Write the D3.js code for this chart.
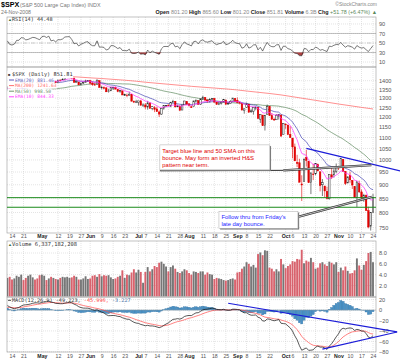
<!DOCTYPE html>
<html>
<head>
<meta charset="utf-8">
<script src="https://cdn.jsdelivr.net/npm/d3@7"></script>
<style>
  body { margin: 0; background: #fff; }
  svg text { font-family: Arial, "Liberation Sans", sans-serif; }
  .mono { font-family: "DejaVu Sans Mono", "Liberation Mono", monospace; }
</style>
</head>
<body>
<svg id="chart" width="400" height="363"></svg>
<script>
// ---- data (2008, daily $SPX) ----
// closes before the visible window, only used to warm up the averages
const earlyCloses = [1355.8,1378.6,1395.4,1380.8,1336.6,1326.5,1336.9,1331.3,1339.1,1348.9,1367.2,1348.9,1350.0,1348.8,1360.0,1342.5,1353.1,1371.8,1381.3,1380.0,1367.7,1330.6,1331.3,1326.8,1333.7,1304.3,1293.4,1273.4,1320.7,1308.8,1315.5,1288.1,1276.6,1330.7,1298.4,1329.5,1349.9,1353.0,1341.1,1325.8,1315.2,1322.7,1370.2,1367.5,1369.3,1370.4,1372.5,1365.5,1354.5];

const dates = ["04-10","04-11","04-14","04-15","04-16","04-17","04-18","04-21","04-22","04-23","04-24","04-25","04-28","04-29","04-30",
"05-01","05-02","05-05","05-06","05-07","05-08","05-09","05-12","05-13","05-14","05-15","05-16","05-19","05-20","05-21","05-22","05-23","05-27","05-28","05-29","05-30",
"06-02","06-03","06-04","06-05","06-06","06-09","06-10","06-11","06-12","06-13","06-16","06-17","06-18","06-19","06-20","06-23","06-24","06-25","06-26","06-27","06-30",
"07-01","07-02","07-03","07-07","07-08","07-09","07-10","07-11","07-14","07-15","07-16","07-17","07-18","07-21","07-22","07-23","07-24","07-25","07-28","07-29","07-30","07-31",
"08-01","08-04","08-05","08-06","08-07","08-08","08-11","08-12","08-13","08-14","08-15","08-18","08-19","08-20","08-21","08-22","08-25","08-26","08-27","08-28","08-29",
"09-02","09-03","09-04","09-05","09-08","09-09","09-10","09-11","09-12","09-15","09-16","09-17","09-18","09-19","09-22","09-23","09-24","09-25","09-26","09-29","09-30",
"10-01","10-02","10-03","10-06","10-07","10-08","10-09","10-10","10-13","10-14","10-15","10-16","10-17","10-20","10-21","10-22","10-23","10-24","10-27","10-28","10-29","10-30","10-31",
"11-03","11-04","11-05","11-06","11-07","11-10","11-11","11-12","11-13","11-14","11-17","11-18","11-19","11-20","11-21","11-24"];

const open = [1355,1357,1333,1328,1337,1364,1369,1387,1386,1378,1380,1388,1398,1395,1391,
1386,1410,1414,1406,1417,1395,1394,1389,1404,1405,1408,1424,1426,1424,1412,1391,1392,1376,1386,1390,1398,
1400,1386,1377,1377,1400,1361,1359,1358,1336,1341,1359,1361,1349,1337,1341,1319,1317,1315,1320,1283,1279,
1276,1285,1262,1263,1252,1274,1245,1248,1242,1226,1215,1246,1259,1262,1257,1278,1283,1253,1257,1236,1264,1281,
1269,1253,1254,1283,1286,1266,1294,1304,1289,1283,1293,1298,1278,1267,1271,1278,1290,1268,1272,1283,1298,
1288,1275,1271,1233,1250,1267,1227,1230,1246,1250,1189,1210,1157,1213,1255,1207,1188,1186,1205,1210,1113,
1164,1160,1115,1097,1057,989,988,903,912,1010,995,909,942,943,980,951,900,895,874,848,939,939,953,
969,971,1002,953,907,936,917,893,853,905,873,853,860,806,755,801];

const high = [1367,1357,1335,1337,1366,1369,1395,1390,1386,1387,1397,1399,1402,1397,1404,
1410,1422,1415,1419,1420,1404,1394,1405,1407,1420,1424,1426,1440,1424,1419,1401,1392,1388,1392,1406,1404,
1400,1395,1389,1405,1400,1370,1367,1362,1353,1361,1364,1366,1349,1347,1341,1324,1326,1336,1320,1288,1291,
1285,1291,1272,1273,1285,1277,1257,1257,1254,1234,1246,1262,1262,1267,1280,1291,1283,1265,1260,1263,1285,1284,
1270,1260,1285,1292,1286,1297,1313,1304,1294,1300,1301,1300,1278,1276,1281,1293,1290,1276,1289,1301,1298,
1304,1280,1271,1244,1275,1269,1243,1249,1255,1250,1214,1210,1211,1265,1256,1220,1197,1215,1215,1210,1168,
1168,1160,1154,1097,1072,1022,1005,937,1006,1044,995,948,984,985,985,951,922,896,893,940,969,964,985,
975,1007,1004,953,931,951,917,893,913,916,882,866,864,820,801,866];

const low = [1350,1331,1324,1324,1337,1356,1369,1380,1370,1372,1370,1380,1394,1386,1384,
1384,1406,1404,1398,1391,1391,1384,1386,1396,1405,1402,1415,1421,1409,1388,1391,1373,1374,1380,1388,1396,
1378,1370,1371,1377,1360,1350,1350,1335,1331,1341,1346,1350,1333,1330,1317,1315,1305,1315,1283,1273,1273,
1260,1261,1252,1240,1238,1244,1235,1225,1226,1200,1211,1238,1251,1256,1251,1276,1251,1252,1234,1236,1264,1264,
1254,1247,1254,1275,1264,1263,1293,1285,1275,1276,1292,1275,1263,1262,1265,1278,1265,1264,1271,1283,1282,
1272,1266,1232,1217,1247,1224,1221,1212,1235,1192,1170,1155,1133,1213,1206,1187,1180,1186,1187,1106,1113,
1141,1111,1098,1007,996,970,909,840,912,972,908,865,918,937,952,875,858,852,846,845,922,928,945,
958,971,950,899,906,907,884,852,819,869,848,837,806,748,741,801];

const close = [1360.6,1332.8,1328.3,1334.4,1364.7,1365.6,1390.3,1388.2,1375.9,1379.9,1388.8,1397.8,1396.4,1390.9,1385.6,
1409.3,1413.9,1407.5,1418.3,1392.6,1397.7,1388.3,1403.6,1403.0,1408.7,1423.6,1425.4,1426.6,1413.4,1390.7,1394.4,1375.9,1385.4,1390.8,1398.3,1400.4,
1385.7,1377.7,1377.2,1404.1,1360.7,1361.8,1358.4,1335.5,1339.9,1360.0,1360.1,1350.9,1337.8,1342.8,1317.9,1318.0,1314.3,1322.0,1283.2,1278.4,1280.0,
1284.9,1261.5,1262.9,1252.3,1273.7,1244.7,1253.4,1239.5,1228.3,1214.9,1245.4,1260.3,1260.7,1260.0,1277.0,1282.2,1252.5,1257.8,1234.4,1263.2,1284.3,1267.4,
1260.3,1249.0,1284.9,1289.2,1266.1,1296.3,1305.3,1289.6,1285.8,1292.9,1298.2,1278.6,1266.7,1274.5,1277.7,1292.2,1266.8,1271.5,1281.7,1300.7,1282.8,
1277.6,1275.0,1236.8,1242.3,1267.8,1224.5,1232.0,1249.1,1251.7,1192.7,1213.6,1156.4,1206.5,1255.1,1207.1,1188.2,1185.9,1209.2,1213.3,1106.4,1166.4,
1161.1,1114.3,1099.2,1056.9,996.2,984.9,909.9,899.2,1003.4,998.0,907.8,946.4,940.6,985.4,955.1,896.8,908.1,876.8,848.9,940.5,930.1,954.1,968.8,
966.3,1005.8,952.8,904.9,931.0,919.2,899.0,852.3,911.3,873.3,850.8,859.1,806.6,752.4,800.0,851.8];

// volume in billions of shares
const volume = [3.4,3.6,3.1,3.3,3.8,3.6,4.0,3.0,3.4,3.8,4.0,3.5,3.1,3.3,3.9,
4.0,3.8,3.0,3.3,3.6,3.4,3.2,3.1,3.4,3.6,3.5,3.6,3.4,3.5,3.8,3.6,3.1,3.1,3.3,3.7,3.2,
3.3,3.8,3.9,3.6,4.1,3.7,3.9,3.8,3.9,3.5,3.2,3.3,3.6,3.8,4.8,3.4,4.0,3.9,4.4,5.0,4.4,
4.9,4.5,2.5,4.5,5.4,4.6,5.0,5.6,5.4,6.2,6.4,6.0,5.5,4.6,5.4,5.7,5.1,4.5,4.3,4.6,5.0,4.8,
4.3,4.0,4.6,4.5,4.3,4.6,4.6,4.0,4.4,4.1,4.0,3.2,3.4,3.3,3.2,3.0,2.9,3.0,3.2,3.3,3.1,
4.4,4.5,5.1,5.5,6.3,6.0,5.5,5.8,5.3,7.8,8.1,7.6,8.5,8.4,5.3,5.1,4.6,5.0,4.6,6.9,5.9,
5.2,5.6,5.9,6.5,6.4,6.9,6.8,8.6,6.1,6.6,6.4,7.1,6.3,5.1,5.3,6.1,6.3,5.9,5.6,6.4,6.2,5.9,6.3,
4.5,5.3,4.8,5.5,4.7,4.2,4.3,4.8,7.0,5.7,4.9,5.8,6.5,8.0,8.2,6.3];

// 200-day average
const ma200Dates = ["04-14","04-21","04-28","05-05","05-12","05-19","05-27","06-02","06-09","06-16","06-23","06-30","07-07","07-14","07-21","07-28","08-04","08-11","08-18","08-25","09-02","09-08","09-15","09-22","09-29","10-06","10-13","10-20","10-27","11-03","11-10","11-17","11-24"];
const ma200Values = [1445,1441,1437,1433,1429,1425,1421,1417,1413,1408,1403,1397,1391,1385,1379,1373,1367,1362,1357,1352,1346,1340,1333,1326,1318,1308,1298,1288,1278,1268,1259,1250,1241.6];

const tickDates  = ["04-14","04-21","05-01","05-12","05-19","05-27","06-02","06-09","06-16","06-23","07-01","07-07","07-14","07-21","07-28","08-01","08-11","08-18","08-25","09-02","09-08","09-15","09-22","10-01","10-06","10-13","10-20","10-27","11-03","11-10","11-17","11-24"];
const tickLabels = ["14","21","May","12","19","27","Jun","9","16","23","Jul","7","14","21","28","Aug","11","18","25","Sep","8","15","22","Oct","6","13","20","27","Nov","10","17","24"];

const priceTicks = [1400,1350,1300,1250,1200,1150,1100,1050,1000,950,900,850,800,750];
const rsiTicks = [90,70,50,30,10];
const volTicks = [8,6,4,2];
const macdTicks = [20,0,-20,-40,-60,-80];

// hand drawn annotations, in [day index, value]
const blueTrend = [[130,1050],[171,954]];
const greenLevels = [852,818];
const macdUpper = [[96,13],[169.5,-42]];
const macdLower = [[137,-75],[169.5,-42]];

// ---- indicators ----
function sma(arr, n) {
  return arr.map((v, i) => i < n - 1 ? null : d3.mean(arr.slice(i - n + 1, i + 1)));
}
function ema(arr, n) {
  const k = 2 / (n + 1);
  const out = arr.map(() => null);
  const first = arr.findIndex(v => v != null);
  let prev = d3.mean(arr.slice(first, first + n));
  out[first + n - 1] = prev;
  for (let i = first + n; i < arr.length; i++) {
    prev = arr[i] * k + prev * (1 - k);
    out[i] = prev;
  }
  return out;
}
function rsi(arr, n) {
  const out = arr.map(() => null);
  let g = 0, l = 0;
  for (let i = 1; i <= n; i++) {
    const d = arr[i] - arr[i - 1];
    if (d > 0) g += d; else l -= d;
  }
  g /= n; l /= n;
  out[n] = 100 - 100 / (1 + g / l);
  for (let i = n + 1; i < arr.length; i++) {
    const d = arr[i] - arr[i - 1];
    g = (g * (n - 1) + Math.max(d, 0)) / n;
    l = (l * (n - 1) + Math.max(-d, 0)) / n;
    out[i] = 100 - 100 / (1 + g / l);
  }
  return out;
}

const all = earlyCloses.concat(close);
const off = earlyCloses.length;
const cut = a => a.slice(off);
const ema20 = cut(ema(all, 20));
const ema10 = cut(ema(all, 10));
const ma50 = cut(sma(all, 50));
const rsi14 = cut(rsi(all, 14));
const macdFull = ema(all, 12).map((v, i) => {
  const s = ema(all, 26)[i];
  return v == null || s == null ? null : v - s;
});
const signalFull = ema(macdFull, 9);
const macd = cut(macdFull);
const signal = cut(signalFull);
const hist = macd.map((v, i) => v - signal[i]);

// ---- layout ----
const svg = d3.select("#chart");
const L = 7, R = 376;
const P = { rsi: [17, 67], price: [67, 233], vol: [241, 297], macd: [297, 352] };

const x = d3.scaleLinear().domain([0, dates.length - 1]).range([7.4, 373]);
const yRsi = d3.scaleLinear().domain([0, 100]).range([66.8, 19.2]);
const yPrice = d3.scaleLog().domain([750, 1400]).range([227.7, 80.7]);
const yVol = d3.scaleLinear().domain([0, 8]).range([296.3, 253]);
const yMacd = d3.scaleLinear().domain([-80, 20]).range([351.8, 299.6]);

const idx = d => dates.indexOf(d);
const tickIdx = tickDates.map(idx);
const prevClose = i => i === 0 ? earlyCloses[earlyCloses.length - 1] : close[i - 1];
const upColor = "#222", downColor = "#e00000";

const defs = svg.append("defs");
Object.entries(P).forEach(([k, [t, b]]) => {
  defs.append("clipPath").attr("id", "clip-" + k)
    .append("rect").attr("x", L).attr("y", t).attr("width", R - L).attr("height", b - t);
});

// panel frames and grids
function panel(key, yScale, ticks, fmt) {
  const [t, b] = P[key];
  const g = svg.append("g");
  g.selectAll(".vg").data(tickIdx).join("line")
    .attr("x1", d => x(d)).attr("x2", d => x(d)).attr("y1", t).attr("y2", b)
    .attr("stroke", "#c8c8c8").attr("stroke-width", 0.5).attr("stroke-dasharray", "1,1");
  g.selectAll(".hg").data(ticks).join("line")
    .attr("x1", L).attr("x2", R).attr("y1", d => yScale(d)).attr("y2", d => yScale(d))
    .attr("stroke", "#c8c8c8").attr("stroke-width", 0.5).attr("stroke-dasharray", "1,1");
  g.append("rect").attr("x", L).attr("y", t).attr("width", R - L).attr("height", b - t)
    .attr("fill", "none").attr("stroke", "#999").attr("stroke-width", 0.6);
  const ax = g.append("g").attr("transform", `translate(${R + 3},0)`)
    .call(d3.axisRight(yScale).tickValues(ticks).tickSize(0).tickPadding(0).tickFormat(fmt));
  ax.select(".domain").remove();
  ax.selectAll("text").attr("font-size", "5.6px").attr("fill", "#555")
    .attr("font-family", "Arial, sans-serif");
  return g;
}

panel("rsi", yRsi, rsiTicks, d3.format("d"));
panel("price", yPrice, priceTicks, d3.format("d"));
panel("vol", yVol, volTicks, d3.format(".1f"));
panel("macd", yMacd, macdTicks, d3.format("d"));

// date labels under price and macd panels
[238.5, 358].forEach(yy => {
  const ax = svg.append("g").attr("transform", `translate(0,${yy - 4})`)
    .call(d3.axisBottom(x).tickValues(tickIdx).tickSize(0).tickPadding(0)
      .tickFormat((d, i) => tickLabels[i]));
  ax.select(".domain").remove();
  ax.selectAll("text").attr("font-size", "5.2px").attr("fill", "#444")
    .attr("font-family", "Arial, sans-serif")
    .attr("font-weight", (d, i) => /[A-Z]/.test(tickLabels[i]) ? "bold" : "normal")
    .attr("fill", (d, i) => /[A-Z]/.test(tickLabels[i]) ? "#222" : "#555");
});

// ---- header ----
svg.append("text").attr("x", 1).attr("y", 7).attr("font-size", "7.2px").attr("font-weight", "bold").text("$SPX");
svg.append("text").attr("x", 20).attr("y", 7).attr("font-size", "5.4px").attr("fill", "#777")
  .text("(S&P 500 Large Cap Index) INDX");
svg.append("text").attr("x", 1).attr("y", 14).attr("font-size", "5.2px").attr("fill", "#777").text("24-Nov-2008");
svg.append("text").attr("x", 377).attr("y", 6).attr("text-anchor", "end").attr("font-size", "5px")
  .attr("fill", "#888").text("\u00A9StockCharts.com");

const quote = [["Open ", "801.20 "], ["High ", "865.60 "], ["Low ", "801.20 "], ["Close ", "851.81 "],
  ["Volume ", "6.3B "], ["Chg ", "+51.78 (+6.47%) \u25B2"]];
const qt = svg.append("text").attr("x", 377).attr("y", 14).attr("text-anchor", "end").attr("font-size", "5.4px");
quote.forEach(([k, v], i) => {
  qt.append("tspan").attr("font-weight", "bold").attr("fill", "#222").text(k);
  qt.append("tspan").attr("fill", i === 5 ? "#5a8a5a" : "#888").text(v);
});

// ---- RSI ----
const gR = svg.append("g");
gR.append("line").attr("x1", L).attr("x2", R).attr("y1", yRsi(70)).attr("y2", yRsi(70)).attr("stroke", "#999").attr("stroke-width", 0.6);
gR.append("line").attr("x1", L).attr("x2", R).attr("y1", yRsi(30)).attr("y2", yRsi(30)).attr("stroke", "#999").attr("stroke-width", 0.6);
gR.append("line").attr("x1", L).attr("x2", R).attr("y1", yRsi(50)).attr("y2", yRsi(50)).attr("stroke", "#aaa")
  .attr("stroke-width", 0.6).attr("stroke-dasharray", "4,1.5,1,1.5");
gR.append("path").datum(d3.range(dates.length))
  .attr("clip-path", "url(#clip-rsi)")
  .attr("fill", "#b04040")
  .attr("d", d3.area().x(i => x(i)).y0(yRsi(30)).y1(i => yRsi(Math.min(30, rsi14[i]))));
gR.append("path").datum(d3.range(dates.length))
  .attr("fill", "none").attr("stroke", "#222").attr("stroke-width", 0.6)
  .attr("d", d3.line().x(i => x(i)).y(i => yRsi(rsi14[i])));
const rl = gR.append("text").attr("class", "mono").attr("x", 12).attr("y", 21).attr("font-size", "5.2px").attr("fill", "#333").text("RSI(14) 44.48");
gR.append("text").attr("x", 8).attr("y", 21).attr("font-size", "4px").attr("fill", "#3a6a3a").text("\u25B2");

// ---- price ----
const gP = svg.append("g").attr("clip-path", "url(#clip-price)");
const lineOf = arr => d3.line().defined(i => arr[i] != null).x(i => x(i)).y(i => yPrice(arr[i]));
const idxs = d3.range(dates.length);

gP.append("path").datum(ma200Dates.map(idx))
  .attr("fill", "none").attr("stroke", "#ff6060").attr("stroke-width", 0.7)
  .attr("d", d3.line().x(i => x(i)).y((i, k) => yPrice(ma200Values[k])));
gP.append("path").datum(idxs).attr("fill", "none").attr("stroke", "#5e8a5e").attr("stroke-width", 0.7).attr("d", lineOf(ma50));
gP.append("path").datum(idxs).attr("fill", "none").attr("stroke", "#4646b4").attr("stroke-width", 0.7).attr("d", lineOf(ema20));

const cw = 1.5;
const col = i => close[i] < prevClose(i) ? downColor : upColor;
const cg = gP.selectAll(".candle").data(idxs).join("g");
cg.append("line").attr("x1", i => x(i)).attr("x2", i => x(i))
  .attr("y1", i => yPrice(high[i])).attr("y2", i => yPrice(low[i]))
  .attr("stroke", col).attr("stroke-width", 0.6);
cg.append("rect").attr("x", i => x(i) - cw / 2).attr("width", cw)
  .attr("y", i => yPrice(Math.max(open[i], close[i])))
  .attr("height", i => Math.max(0.6, Math.abs(yPrice(open[i]) - yPrice(close[i]))))
  .attr("fill", i => close[i] < open[i] ? col(i) : "#fff")
  .attr("stroke", col).attr("stroke-width", 0.5);

gP.append("path").datum(idxs).attr("fill", "none").attr("stroke", "#ff30ff").attr("stroke-width", 0.7).attr("d", lineOf(ema10));

// green support levels
gP.selectAll(".lvl").data(greenLevels).join("line")
  .attr("x1", L).attr("x2", R).attr("y1", d => yPrice(d)).attr("y2", d => yPrice(d))
  .attr("stroke", "#1a8a1a").attr("stroke-width", 1);

// legend
const legend = [
  { t: "$SPX (Daily) 851.81", c: "#333", s: 5.3 },
  { t: "EMA(20) 881.46", c: "#5a5ab8", s: 4.6, k: "#4646b4" },
  { t: "MA(200) 1241.63", c: "#ff6a6a", s: 4.6, k: "#ff6060" },
  { t: "MA(50) 998.50", c: "#6f946f", s: 4.6, k: "#5e8a5e" },
  { t: "EMA(10) 844.33", c: "#ff40ff", s: 4.6, k: "#ff30ff" }
];
const lg = svg.append("g");
legend.forEach((d, i) => {
  const yy = 76 + i * 5.6;
  const tx = lg.append("text").attr("class", "mono").attr("x", i === 0 ? 12 : 15).attr("y", yy)
    .attr("font-size", d.s + "px").attr("fill", d.c).text(d.t);
  const bb = tx.node().getBBox();
  lg.insert("rect", "text").attr("x", L + 0.5).attr("y", bb.y - 0.3).attr("width", bb.x + bb.width - L)
    .attr("height", bb.height + 0.6).attr("fill", "#fff");
  if (d.k) lg.append("line").attr("x1", 9).attr("x2", 14).attr("y1", yy - 1.6).attr("y2", yy - 1.6)
    .attr("stroke", d.k).attr("stroke-width", 0.9);
});
lg.append("text").attr("x", 8).attr("y", 76).attr("font-size", "4px").attr("fill", "#444").text("\u25A0");

// annotations
const pt = ([i, v]) => [x(i), yPrice(v)];
svg.append("line")
  .attr("x1", pt(blueTrend[0])[0]).attr("y1", pt(blueTrend[0])[1])
  .attr("x2", pt(blueTrend[1])[0]).attr("y2", pt(blueTrend[1])[1])
  .attr("stroke", "#1c1cd8").attr("stroke-width", 1.3);

function doubleLine(a, b) {
  const [x1, y1] = pt(a), [x2, y2] = pt(b);
  svg.append("line").attr("x1", x1).attr("y1", y1).attr("x2", x2).attr("y2", y2)
    .attr("stroke", "#333").attr("stroke-width", 2.2);
  svg.append("line").attr("x1", x1).attr("y1", y1).attr("x2", x2).attr("y2", y2)
    .attr("stroke", "#d0d0d0").attr("stroke-width", 0.9);
}
// leader under the first note and the two pointers
svg.append("line").attr("x1", x(66.3)).attr("x2", x(124)).attr("y1", yPrice(955)).attr("y2", yPrice(957))
  .attr("stroke", "#111").attr("stroke-width", 0.9);
doubleLine([120, 957], [158.3, 978]);
doubleLine([126.8, 786], [158.5, 855]);

function note(i, v, w, h, lines, color) {
  const [bx, by] = pt([i, v]);
  svg.append("rect").attr("x", bx + 1.2).attr("y", by + 1.2).attr("width", w).attr("height", h).attr("fill", "#777");
  svg.append("rect").attr("x", bx).attr("y", by).attr("width", w).attr("height", h)
    .attr("fill", "#fff").attr("stroke", "#aaa").attr("stroke-width", 0.5);
  lines.forEach((t, k) => {
    svg.append("text").attr("x", bx + 2.5).attr("y", by + 7.8 + k * 7.2)
      .attr("font-size", "5.9px").attr("fill", color).text(t);
  });
}
note(66.3, 1066, 110, 25, ["Target blue line and 50 SMA on this", "bounce.  May form an inverted H&S", "pattern near term."], "#e00000");
note(92, 804, 79, 17, ["Follow thru from Friday's", "late day bounce."], "#1c1cff");

// ---- volume ----
const gV = svg.append("g").attr("clip-path", "url(#clip-vol)");
gV.selectAll("rect").data(idxs).join("rect")
  .attr("x", i => x(i) - 0.95).attr("width", 1.9)
  .attr("y", i => yVol(volume[i])).attr("height", i => yVol(0) - yVol(volume[i]))
  .attr("fill", i => close[i] < prevClose(i) ? "#d8626d" : "#767676");
const vt = svg.append("text").attr("class", "mono").attr("x", 12).attr("y", 246).attr("font-size", "5.4px")
  .attr("fill", "#333").text("Volume 6,337,182,208");
svg.append("text").attr("x", 8).attr("y", 246).attr("font-size", "4px").attr("fill", "#3a6a3a").text("\u25B2");

// ---- MACD ----
const gM = svg.append("g").attr("clip-path", "url(#clip-macd)");
gM.selectAll("rect").data(idxs).join("rect")
  .attr("x", i => x(i) - 1.1).attr("width", 2.2)
  .attr("y", i => Math.min(yMacd(0), yMacd(hist[i])))
  .attr("height", i => Math.abs(yMacd(hist[i]) - yMacd(0)))
  .attr("fill", "#4a92c6").attr("stroke", "#2f6f9f").attr("stroke-width", 0.3);
gM.append("line").attr("x1", L).attr("x2", R).attr("y1", yMacd(0)).attr("y2", yMacd(0)).attr("stroke", "#aaa").attr("stroke-width", 0.4);
gM.append("path").datum(idxs).attr("fill", "none").attr("stroke", "#ff4a4a").attr("stroke-width", 0.7)
  .attr("d", d3.line().x(i => x(i)).y(i => yMacd(signal[i])));
gM.append("path").datum(idxs).attr("fill", "none").attr("stroke", "#111").attr("stroke-width", 0.7)
  .attr("d", d3.line().x(i => x(i)).y(i => yMacd(macd[i])));
[macdUpper, macdLower].forEach(seg => {
  svg.append("line").attr("x1", x(seg[0][0])).attr("y1", yMacd(seg[0][1]))
    .attr("x2", x(seg[1][0])).attr("y2", yMacd(seg[1][1]))
    .attr("stroke", "#1c1cd8").attr("stroke-width", 1.2);
});
const mt = svg.append("text").attr("class", "mono").attr("x", 12).attr("y", 302).attr("font-size", "5.2px");
mt.append("tspan").attr("fill", "#333").text("MACD(12,26,9) -49.223, ");
mt.append("tspan").attr("fill", "#ff4a4a").text("-45.996, ");
mt.append("tspan").attr("fill", "#4a72a6").text("-3.227");
svg.append("line").attr("x1", 8).attr("x2", 11).attr("y1", 300.3).attr("y2", 300.3).attr("stroke", "#333").attr("stroke-width", 0.9);
</script>
</body>
</html>
